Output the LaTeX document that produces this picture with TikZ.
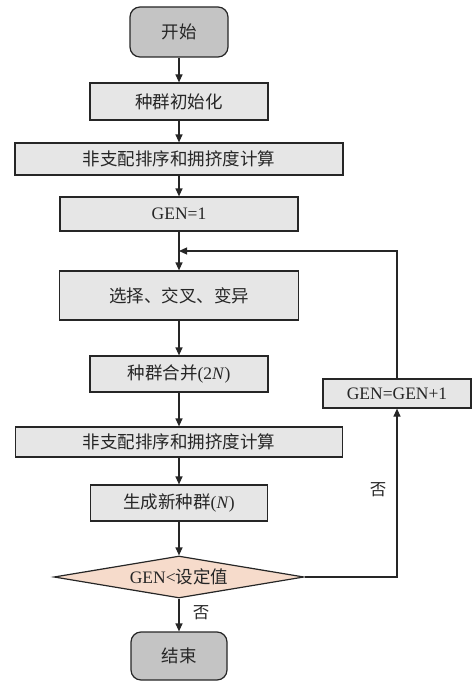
\documentclass[tikz,border=0pt]{standalone}
\usepackage{fontspec}
\setmainfont{Liberation Serif}
\newfontfamily\cjk{Noto Sans CJK SC}
\usetikzlibrary{shapes.geometric,arrows.meta}
\definecolor{boxfill}{HTML}{E6E6E6}
\definecolor{termfill}{HTML}{C4C4C4}
\definecolor{diafill}{HTML}{F6DBCB}
\definecolor{edge}{HTML}{262626}
\begin{document}
\begin{tikzpicture}[x=1pt,y=-1pt,
  every node/.style={font=\fontsize{17.5}{20}\selectfont, text=black!85},
  procbox/.style={draw=edge, line width=1.2pt, fill=boxfill, inner sep=0pt, anchor=center},
  termbox/.style={draw=edge, line width=1.2pt, fill=termfill, rounded corners=10pt, inner sep=0pt, anchor=center},
  decbox/.style={diamond, aspect=6, draw=edge, line width=1.2pt, fill=diafill, inner sep=0pt, anchor=center},
  flow/.style={draw=edge, line width=1.2pt, -{Triangle[length=8pt,width=7pt]}},
  lbl/.style={font=\fontsize{16.5}{19}\selectfont\cjk}]
\useasboundingbox (0,0) rectangle (473,682);
\node[termbox, minimum width=98pt, minimum height=50pt] (start) at (179,32) {\cjk 开始};
\node[procbox, minimum width=178pt, minimum height=37pt] (init) at (179,101.5) {\cjk 种群初始化};
\node[procbox, minimum width=328pt, minimum height=32pt] (nd1) at (179,159) {\cjk 非支配排序和拥挤度计算};
\node[procbox, minimum width=238pt, minimum height=34pt] (gen1) at (179,214) {GEN=1};
\node[procbox, minimum width=239pt, minimum height=49pt] (sel) at (179,295.5) {\cjk 选择、交叉、变异};
\node[procbox, minimum width=178pt, minimum height=36pt] (merge) at (179,374) {{\cjk 种群合并}(2\textit{N})};
\node[procbox, minimum width=327pt, minimum height=30pt] (nd2) at (179,442) {\cjk 非支配排序和拥挤度计算};
\node[procbox, minimum width=177pt, minimum height=36pt] (newpop) at (179,503) {{\cjk 生成新种群}(\textit{N})};
\node[decbox, minimum width=250pt, minimum height=42pt] (dia) at (179,577) {GEN<{\cjk 设定值}};
\node[termbox, minimum width=96pt, minimum height=48pt] (stop) at (179,656) {\cjk 结束};
\node[procbox, minimum width=148pt, minimum height=29pt] (inc) at (397,393.5) {GEN=GEN+1};
\coordinate (join) at (179,251);
\draw[flow] (start) -- (init);
\draw[flow] (init) -- (nd1);
\draw[flow] (nd1) -- (gen1);
\draw[flow] (gen1) -- (sel);
\draw[flow] (sel) -- (merge);
\draw[flow] (merge) -- (nd2);
\draw[flow] (nd2) -- (newpop);
\draw[flow] (newpop) -- (dia);
\draw[flow] (dia) -- (stop);
\draw[flow] (dia.east) -| (inc.south);
\draw[flow] (inc.north) |- (join);
\node[lbl] (no1) at (201,613) {否};
\node[lbl] (no2) at (378,490) {否};
\end{tikzpicture}
\end{document}
